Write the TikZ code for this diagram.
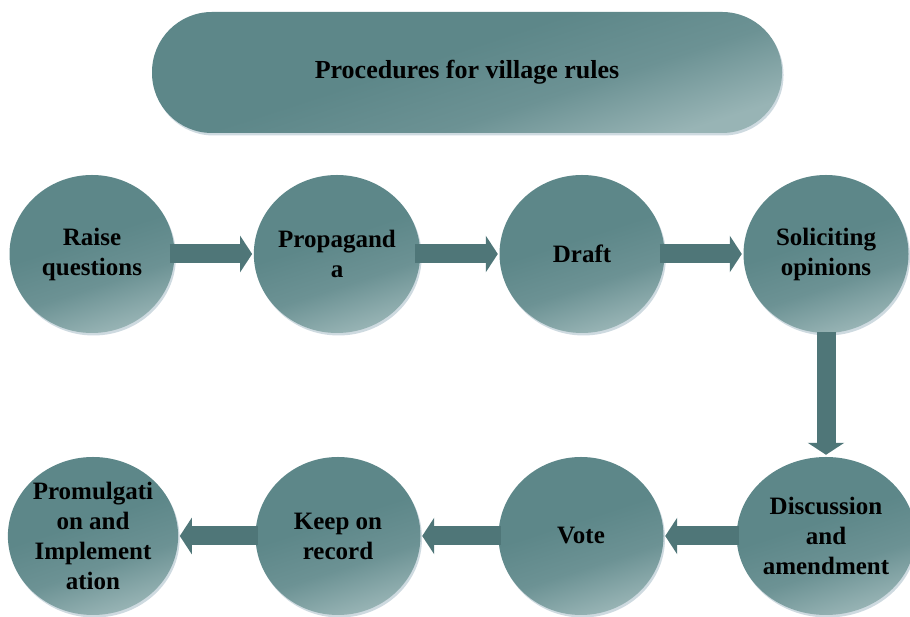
\documentclass[tikz,border=0pt]{standalone}
\usepackage{fontspec}
\setmainfont{Liberation Serif}
\usetikzlibrary{arrows.meta,shapes.geometric,shadows}
\definecolor{tealA}{HTML}{5D8789}
\definecolor{tealM}{HTML}{6C9294}
\definecolor{tealB}{HTML}{98B4B5}
\definecolor{arrowC}{HTML}{4F7678}
\definecolor{shadowC}{HTML}{C9D6DD}
\pgfdeclareverticalshading{tealshade}{100bp}{color(0bp)=(tealB); color(25bp)=(tealB); color(40bp)=(tealM); color(55bp)=(tealA); color(100bp)=(tealA)}
\begin{document}
\begin{tikzpicture}[x=1pt,y=1pt,
  fillstyle/.style={shading=tealshade, shading angle=18,
    drop shadow={shadow xshift=1.5pt, shadow yshift=-2.5pt, fill=shadowC, opacity=0.9}},
  stepnode/.style={ellipse, fillstyle, minimum width=165pt, minimum height=158pt, inner sep=0pt,
    align=center, text=black, font=\fontsize{25}{30}\selectfont\bfseries},
  titlenode/.style={rectangle, rounded corners=60pt, fillstyle, minimum width=630pt, minimum height=121pt,
    text=black, font=\fontsize{26}{30}\selectfont\bfseries},
  conn/.style={draw=arrowC, line width=19pt, -{Triangle[width=36pt,length=12pt]}}
]
\fill[white] (0,0) rectangle (910,617);
\useasboundingbox (0,0) rectangle (910,617);

\node[titlenode] (title) at (467,544.5) {Procedures for village rules};

\node[stepnode] (n1) at (92,363) {Raise\\questions};
\node[stepnode] (n2) at (337,363) {Propagand\\a};
\node[stepnode] (n3) at (582,363) {Draft};
\node[stepnode] (n4) at (826,363) {Soliciting\\opinions};
\node[stepnode] (n5) at (826,81) {Discussion\\and\\amendment};
\node[stepnode] (n6) at (581,81) {Vote};
\node[stepnode] (n7) at (338,81) {Keep on\\record};
\node[stepnode] (n8) at (93,81) {Promulgati\\on and\\Implement\\ation};

\draw[conn, shorten <=-5pt, shorten >=1.5pt] (n1.east) -- (n2.west);
\draw[conn, shorten <=-5pt, shorten >=1.5pt] (n2.east) -- (n3.west);
\draw[conn, shorten <=-5pt, shorten >=1.5pt] (n3.east) -- (n4.west);
\draw[conn, shorten <=-1pt, shorten >=2pt] (n4.south) -- (n5.north);
\draw[conn, shorten <=-3pt, shorten >=1.5pt] (n5.west) -- (n6.east);
\draw[conn, shorten <=-3pt, shorten >=1.5pt] (n6.west) -- (n7.east);
\draw[conn, shorten <=-3pt, shorten >=1.5pt] (n7.west) -- (n8.east);
\end{tikzpicture}
\end{document}
